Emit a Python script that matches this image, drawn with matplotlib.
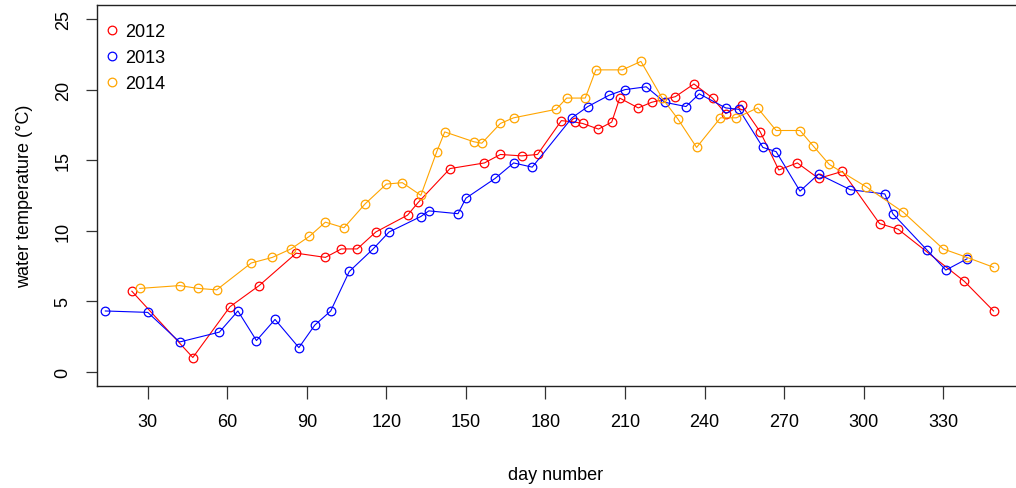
import matplotlib
matplotlib.use("Agg")
import matplotlib.pyplot as plt
from matplotlib.lines import Line2D

plt.rcParams['font.family'] = ['Liberation Sans', 'DejaVu Sans']

# weekly water temperature readings, day of year vs degrees C
day_2012 = [24, 47, 61, 72, 86, 97, 103, 109, 116, 128, 132, 144, 157, 163, 171, 177,
            186, 191, 194, 200, 205, 208, 215, 220, 229, 236, 243, 248, 254, 261, 268,
            275, 283, 292, 306, 313, 338, 349]
temp_2012 = [5.7, 1.0, 4.6, 6.1, 8.4, 8.1, 8.7, 8.7, 9.9, 11.1, 12.0, 14.4, 14.8, 15.4,
             15.3, 15.4, 17.8, 17.7, 17.6, 17.2, 17.7, 19.4, 18.7, 19.1, 19.5, 20.4, 19.4,
             18.3, 18.9, 17.0, 14.3, 14.8, 13.7, 14.2, 10.5, 10.1, 6.4, 4.3]

day_2013 = [14, 30, 42, 57, 64, 71, 78, 87, 93, 99, 106, 115, 121, 133, 136, 147, 150,
            161, 168, 175, 190, 196, 204, 210, 218, 225, 233, 238, 248, 253, 262, 267,
            276, 283, 295, 308, 311, 324, 331, 339]
temp_2013 = [4.3, 4.2, 2.1, 2.8, 4.3, 2.2, 3.7, 1.7, 3.3, 4.3, 7.1, 8.7, 9.9, 11.0, 11.4,
             11.2, 12.3, 13.7, 14.8, 14.5, 18.0, 18.8, 19.6, 20.0, 20.2, 19.1, 18.8, 19.7,
             18.7, 18.6, 15.9, 15.6, 12.8, 14.0, 12.9, 12.6, 11.2, 8.6, 7.2, 8.0]

day_2014 = [27, 42, 49, 56, 69, 77, 84, 91, 97, 104, 112, 120, 126, 133, 139, 142, 153,
            156, 163, 168, 184, 188, 195, 199, 209, 216, 224, 230, 237, 246, 252, 260,
            267, 276, 281, 287, 301, 315, 330, 339, 349]
temp_2014 = [5.9, 6.1, 5.9, 5.8, 7.7, 8.1, 8.7, 9.6, 10.6, 10.2, 11.9, 13.3, 13.4, 12.5,
             15.6, 17.0, 16.3, 16.2, 17.6, 18.0, 18.6, 19.4, 19.4, 21.4, 21.4, 22.0, 19.4,
             17.9, 15.9, 18.0, 18.0, 18.7, 17.1, 17.1, 16.0, 14.7, 13.1, 11.3, 8.7, 8.1, 7.4]

years = ['2012', '2013', '2014']
colours = ['red', 'blue', 'orange']

fig = plt.figure(figsize=(10.16, 4.89), dpi=100)
ax = fig.add_axes([0.0952, 0.2092, 0.9088, 0.7785])

for d, t, c in zip([day_2012, day_2013, day_2014], [temp_2012, temp_2013, temp_2014], colours):
    ax.plot(d, t, color=c, lw=0.8, marker='o', ms=6.2, mfc='none', mec=c, mew=0.9)

ax.set_xlim(10.75, 359.0)
ax.set_ylim(-1, 26)
ax.set_xticks(range(30, 331, 30))
ax.set_yticks(range(0, 26, 5))
ax.tick_params(axis='x', length=9, width=0.9, pad=11, labelsize=13, color='#333333')
ax.tick_params(axis='y', length=8, width=0.9, pad=10, labelsize=13, color='#333333')
for lab in ax.get_yticklabels():
    lab.set_rotation(90)
    lab.set_va('center')

for side in ['left', 'top', 'bottom']:
    ax.spines[side].set_linewidth(1.0)
    ax.spines[side].set_color('#222222')
ax.spines['right'].set_visible(False)

fig.text(0.5472, 1 - 476 / 489, 'day number', ha='center', va='center', fontsize=13)
fig.text(25 / 1016, 1 - 196 / 489, 'water temperature (°C)', rotation=90,
         ha='center', va='center', fontsize=13)

handles = [Line2D([], [], color=c, marker='o', ls='none', ms=6.2, mfc='none', mew=0.9)
           for c in colours]
ax.legend(handles, years, loc='upper left', frameon=False, fontsize=13,
          handlelength=0.8, handletextpad=0.35, labelspacing=0.5,
          borderaxespad=0.3, bbox_to_anchor=(-0.005, 0.985))

fig.savefig('out.png', dpi=100)
